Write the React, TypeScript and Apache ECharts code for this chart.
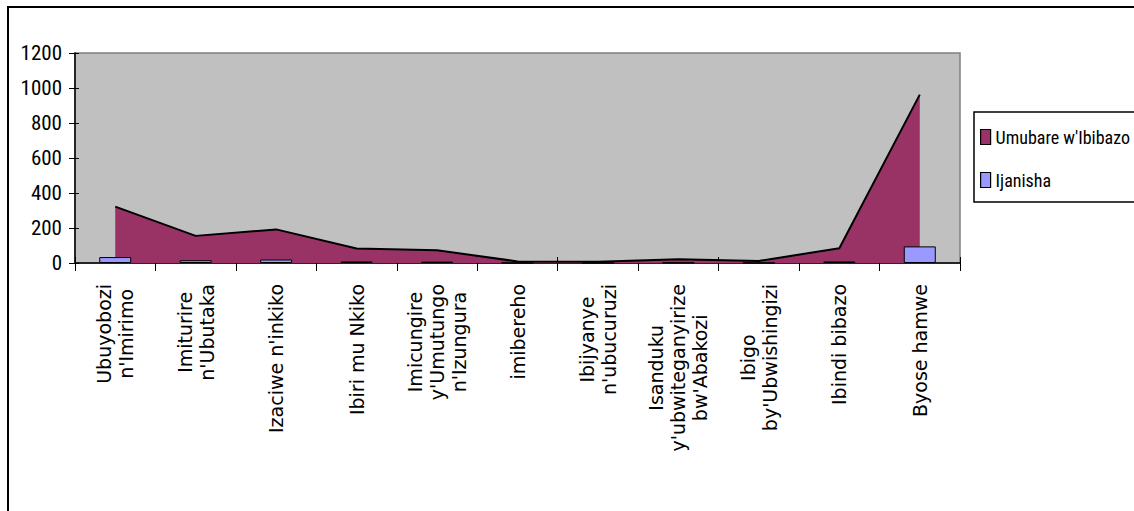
import React, { useEffect, useRef } from "react";
import * as echarts from "echarts";

const categories = [
  "Ubuyobozi\nn'Imirimo",
  "Imiturire\nn'Ubutaka",
  "Izaciwe n'inkiko",
  "Ibiri mu Nkiko",
  "Imicungire\ny'Umutungo\nn'Izungura",
  "imibereho",
  "Ibijyanye\nn'ubucuruzi",
  "Isanduku\ny'ubwiteganyirize\nbw'Abakozi",
  "Ibigo\nby'Ubwishingizi",
  "Ibindi bibazo",
  "Byose hamwe",
];
const seriesNames = ["Umubare w'Ibibazo", "Ijanisha"];
const umubareValues = [322, 155, 192, 83, 73, 9, 7, 22, 12, 84, 962];
const ijanishaValues = [34, 16, 20, 9, 8, 1, 1, 2, 1, 9, 95];
const yMin = 0;
const yMax = 1200;
const yInterval = 200;

const narrowFont = "'Roboto Condensed', 'Liberation Sans', sans-serif";
const labelFont = "'DejaVu Sans', Verdana, sans-serif";

export default function App() {
  const ref = useRef<HTMLDivElement>(null);
  useEffect(() => {
    if (!ref.current) return;
    const chart = echarts.init(ref.current, undefined, { renderer: "svg" });
    const option: any = {
      animation: false,
      backgroundColor: "#ffffff",
      graphic: [
        {
          type: "rect",
          silent: true,
          z: 100,
          shape: { x: 8, y: 7, width: 1500, height: 900 },
          style: { fill: "none", stroke: "#000", lineWidth: 2 },
        },
      ],
      grid: {
        left: 75,
        top: 53,
        right: 174,
        bottom: 248,
        show: true,
        backgroundColor: "#C0C0C0",
        borderColor: "#808080",
        borderWidth: 1.5,
        containLabel: false,
      },
      legend: {
        orient: "vertical",
        left: 974,
        top: 112,
        padding: [14, 20, 11, 6],
        itemGap: 21,
        itemWidth: 10,
        itemHeight: 15,
        borderColor: "#000",
        borderWidth: 1.5,
        backgroundColor: "#fff",
        textStyle: { fontFamily: narrowFont, fontSize: 18, color: "#000", lineHeight: 22 },
        data: [
          {
            name: seriesNames[0],
            icon: "rect",
            itemStyle: { color: "#993366", borderColor: "#000", borderWidth: 1.2 },
          },
          {
            name: seriesNames[1],
            icon: "rect",
            itemStyle: { color: "#9999FF", borderColor: "#000", borderWidth: 1.2 },
          },
        ],
      },
      xAxis: [
        {
          type: "category",
          data: categories,
          position: "bottom",
          boundaryGap: true,
          axisLine: { show: true, lineStyle: { color: "#000", width: 1.5 } },
          axisTick: { show: true, inside: false, length: 8, lineStyle: { color: "#000", width: 1 } },
          splitLine: { show: false },
          axisLabel: {
            interval: 0,
            rotate: 90,
            margin: 21,
            color: "#000",
            fontFamily: labelFont,
            fontSize: 19,
            lineHeight: 22,
            formatter: (v: string) =>
              v
                .split("\n")
                .map((l) => "{c|" + l + "}")
                .join("\n"),
            rich: {
              c: {
                align: "center",
                fontFamily: labelFont,
                fontSize: 19,
                lineHeight: 22,
                color: "#000",
              },
            },
          },
        },
        {
          type: "category",
          data: categories,
          position: "bottom",
          boundaryGap: true,
          axisLine: { show: false },
          axisTick: { show: true, inside: true, length: 6, lineStyle: { color: "#000", width: 1 } },
          axisLabel: { show: false },
          splitLine: { show: false },
        },
      ],
      yAxis: [
        {
          type: "value",
          min: yMin,
          max: yMax,
          interval: yInterval,
          position: "left",
          axisLine: { show: true, lineStyle: { color: "#000", width: 1.5 } },
          axisTick: { show: true, inside: false, length: 6, lineStyle: { color: "#000", width: 1 } },
          splitLine: { show: false },
          axisLabel: {
            margin: 13,
            color: "#000",
            fontFamily: narrowFont,
            fontSize: 21,
            formatter: (v: number) => String(v),
          },
        },
        {
          type: "value",
          min: yMin,
          max: yMax,
          interval: yInterval,
          position: "left",
          axisLine: { show: false },
          axisTick: { show: true, inside: true, length: 4, lineStyle: { color: "#000", width: 1 } },
          splitLine: { show: false },
          axisLabel: { show: false },
        },
      ],
      series: [
        {
          name: seriesNames[0],
          type: "line",
          data: umubareValues,
          symbol: "none",
          xAxisIndex: 0,
          yAxisIndex: 0,
          lineStyle: { color: "#000", width: 2 },
          itemStyle: { color: "#993366" },
          areaStyle: { color: "#993366", opacity: 1 },
          z: 2,
        },
        {
          name: seriesNames[1],
          type: "bar",
          data: ijanishaValues,
          xAxisIndex: 0,
          yAxisIndex: 0,
          barWidth: 32,
          itemStyle: { color: "#9999FF", borderColor: "#000", borderWidth: 1 },
          z: 3,
        },
      ],
    };
    chart.setOption(option);
    return () => chart.dispose();
  }, []);
  return (
    <div
      ref={ref}
      style={{ position: "absolute", left: 0, top: 0, width: 1134, height: 511 }}
    />
  );
}
